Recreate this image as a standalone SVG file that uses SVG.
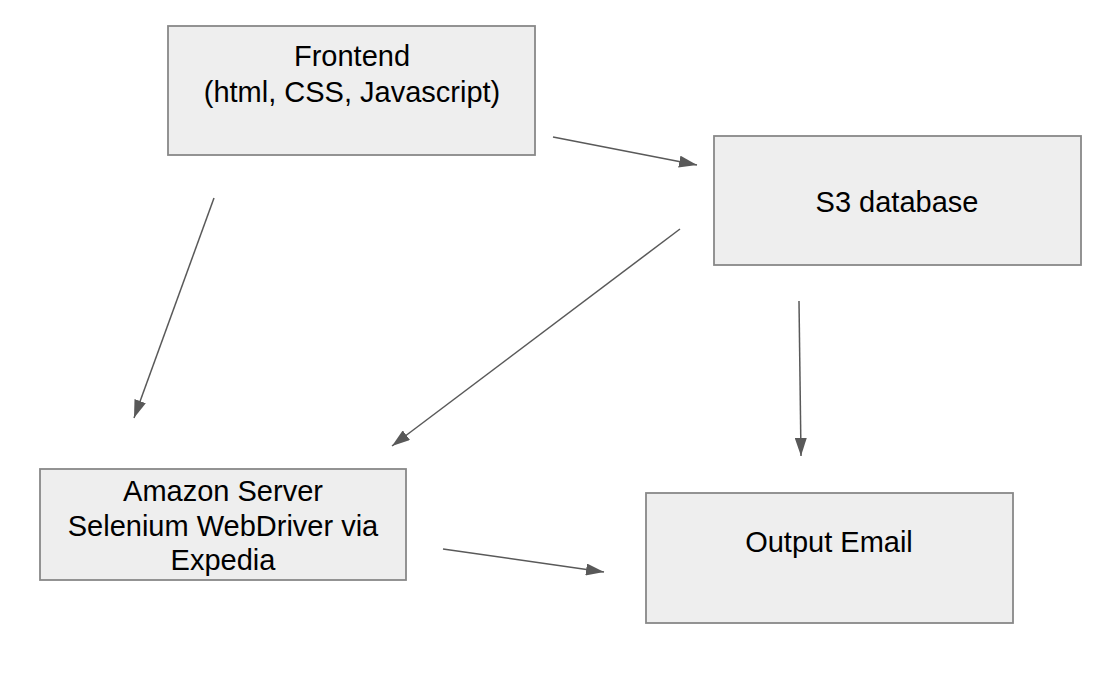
<svg xmlns="http://www.w3.org/2000/svg" width="1112" height="678" viewBox="0 0 1112 678">
<defs>
<style>
.box{fill:#eeeeee;stroke:#888888;stroke-width:1.8}
.lbl{font-family:"Liberation Sans",Arial,sans-serif;font-size:29px;fill:#000;text-anchor:middle}
.edge{stroke:#595959;stroke-width:1.5;fill:none;marker-end:url(#ah)}
</style>
<marker id="ah" viewBox="0 0 18 12" refX="18" refY="6" markerWidth="18" markerHeight="12" markerUnits="userSpaceOnUse" orient="auto">
<path d="M0,0 L18,6 L0,12 Z" fill="#595959"/>
</marker>
</defs>
<rect width="1112" height="678" fill="#ffffff"/>
<g id="connectors">
<line class="edge" x1="553" y1="137" x2="697" y2="165"/>
<line class="edge" x1="214" y1="198" x2="134" y2="418"/>
<line class="edge" x1="680" y1="229" x2="392" y2="446"/>
<line class="edge" x1="799" y1="301" x2="801" y2="456"/>
<line class="edge" x1="443" y1="549" x2="604" y2="572"/>
</g>
<g id="frontend">
<rect class="box" x="168" y="26" width="367" height="129"/>
<text class="lbl" x="352" y="66">Frontend</text>
<text class="lbl" x="352" y="102">(html, CSS, Javascript)</text>
</g>
<g id="s3">
<rect class="box" x="714" y="136" width="367" height="129"/>
<text class="lbl" x="897" y="212">S3 database</text>
</g>
<g id="amazon">
<rect class="box" x="40" y="469" width="366" height="111"/>
<text class="lbl" x="223" y="501">Amazon Server</text>
<text class="lbl" x="223" y="536">Selenium WebDriver via</text>
<text class="lbl" x="223" y="570">Expedia</text>
</g>
<g id="email">
<rect class="box" x="646" y="493" width="367" height="130"/>
<text class="lbl" x="829" y="552">Output Email</text>
</g>
</svg>
